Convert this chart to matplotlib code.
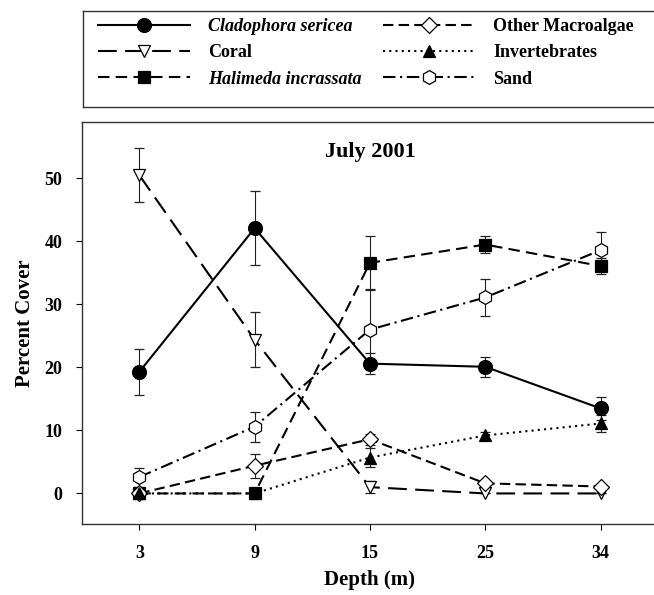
import numpy as np
import matplotlib
matplotlib.use("Agg")
import matplotlib.pyplot as plt

# --- DATA ---
depths = ["3", "9", "15", "25", "34"]

cladophora = [19.3, 42.1, 20.6, 20.1, 13.5]
cladophora_err = [3.6, 5.9, 1.7, 1.6, 1.8]

coral = [50.5, 24.4, 1.0, 0.0, 0.0]
coral_err = [4.3, 4.4, 1.0, 0.0, 0.0]

halimeda = [0.0, 0.0, 36.6, 39.5, 36.1]
halimeda_err = [0.0, 0.0, 4.2, 1.3, 1.2]

other_macro = [0.0, 4.4, 8.6, 1.6, 1.1]
other_macro_err = [0.0, 1.9, 0.9, 0.4, 0.3]

invertebrates = [0.0, 0.0, 5.7, 9.2, 11.1]
invertebrates_err = [0.0, 0.0, 1.5, 0.5, 1.4]

sand = [2.6, 10.6, 26.0, 31.1, 38.6]
sand_err = [1.5, 2.4, 6.3, 2.9, 2.9]

labels = ["Cladophora sericea", "Coral", "Halimeda incrassata",
          "Other Macroalgae", "Invertebrates", "Sand"]
italic = [True, False, True, False, False, False]

plt.rcParams["font.family"] = ["Liberation Serif", "DejaVu Serif"]
plt.rcParams["font.weight"] = "bold"

fig = plt.figure(figsize=(6.54, 5.95), dpi=100)
ax = fig.add_axes([0.1249, 0.1188, 0.8815, 0.6767])

x = np.arange(len(depths))

# --- series styles ---
series = [
    (cladophora, cladophora_err, dict(marker="o", ms=10, mfc="black", ls="-")),
    (coral, coral_err, dict(marker="v", ms=9, mfc="white", dashes=(9, 4))),
    (halimeda, halimeda_err, dict(marker="s", ms=8.5, mfc="black", dashes=(5.5, 3))),
    (other_macro, other_macro_err, dict(marker="D", ms=8, mfc="white", dashes=(5, 2.5))),
    (invertebrates, invertebrates_err, dict(marker="^", ms=8.5, mfc="black", dashes=(1, 2))),
    (sand, sand_err, dict(marker="h", ms=10, mfc="white", dashes=(6, 2.2, 1, 2.2))),
]

handles = []
for vals, errs, st in series:
    eb = ax.errorbar(x, vals, yerr=errs, color="black", lw=1.5, mec="black",
                     mew=0.9, ecolor="#222222", elinewidth=0.8, capsize=3.6,
                     capthick=0.8, **st)
    handles.append(eb.lines[0])

ax.set_xlim(-0.5, 4.5)
ax.set_ylim(-4.9, 59)
ax.set_xticks(x)
ax.set_xticklabels(depths)
ax.set_yticks([0, 10, 20, 30, 40, 50])
ax.tick_params(direction="out", length=4, width=0.8, labelsize=13)
ax.tick_params(axis="y", pad=10)
ax.tick_params(axis="x", pad=11)
for s in ax.spines.values():
    s.set_linewidth(1.0)
    s.set_color("#333333")

ax.set_xlabel("Depth (m)", fontsize=15, fontweight="bold", labelpad=6)
ax.set_ylabel("Percent Cover", fontsize=15, fontweight="bold", labelpad=7)
ax.text(2, 53.4, "July 2001", ha="center", va="baseline", fontsize=16,
        fontweight="bold")

# --- legend box above the plot ---
lax = fig.add_axes([0.127, 0.820, 0.90, 0.1613])
lax.set_xticks([])
lax.set_yticks([])
for s in lax.spines.values():
    s.set_linewidth(1.0)
    s.set_color("#333333")

def make_legend(idx, x0):
    leg = lax.legend([handles[i] for i in idx], [labels[i] for i in idx],
                     loc="upper left", bbox_to_anchor=(x0, 0.93),
                     frameon=False, fontsize=13, handlelength=5.1,
                     handletextpad=1.0, labelspacing=0.52, borderpad=0,
                     borderaxespad=0, numpoints=1)
    for t, i in zip(leg.get_texts(), idx):
        if italic[i]:
            t.set_style("italic")
    return leg

leg1 = make_legend([0, 1, 2], 0.025)
lax.add_artist(leg1)
make_legend([3, 4, 5], 0.51)

fig.savefig("out.png", dpi=100)
